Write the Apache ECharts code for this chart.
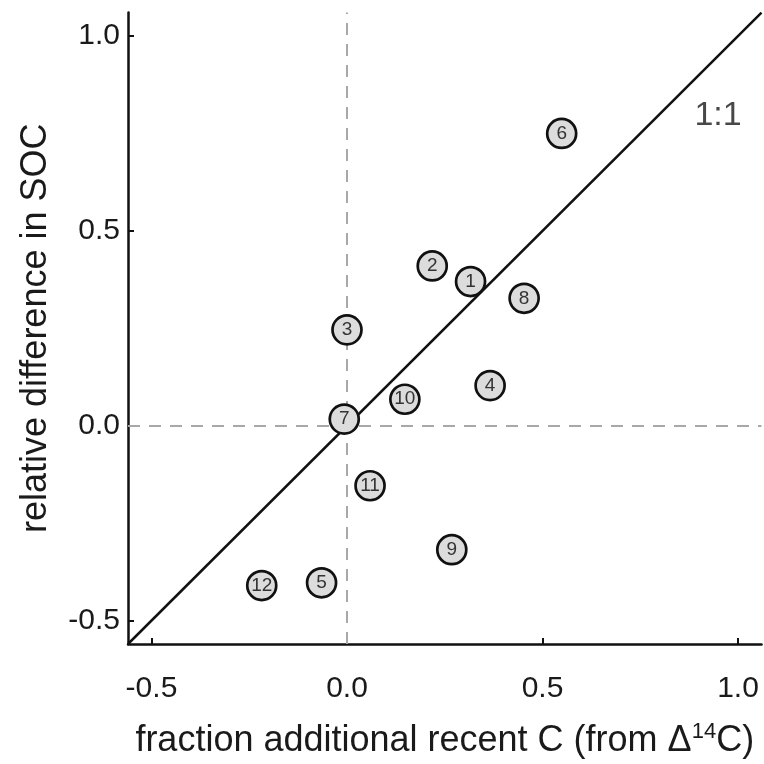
<!DOCTYPE html>
<html>
<head>
<meta charset="utf-8">
<script src="https://cdn.jsdelivr.net/npm/echarts@6/dist/echarts.min.js"></script>
<style>
html,body{margin:0;padding:0;background:#fff;}
#chart{width:764px;height:764px;}
</style>
</head>
<body>
<div id="chart"></div>
<script>
// Data
var siteLabels = ['1','2','3','4','5','6','7','8','9','10','11','12'];
var recentC    = [0.316, 0.218, 0.000, 0.366, -0.065, 0.549, -0.007, 0.453, 0.268, 0.148, 0.059, -0.218];
var socDiff    = [0.370, 0.410, 0.246, 0.103, -0.403, 0.750, 0.017, 0.327, -0.318, 0.068, -0.154, -0.410];
var tickValues = [-0.5, 0.0, 0.5, 1.0];
var axisMin = -0.56, axisMax = 1.06;
var oneToOneLabel = '1:1';
var oneToOneLabelPos = [0.949, 0.795];

var points = siteLabels.map(function (n, i) { return { name: n, value: [recentC[i], socDiff[i]] }; });

var FONT = 'Liberation Sans, Arial, sans-serif';
var chart = echarts.init(document.getElementById('chart'), null, { renderer: 'canvas' });

function axisCommon() {
  return {
    type: 'value', min: axisMin, max: axisMax,
    axisLine: { show: true, onZero: false, lineStyle: { color: '#111', width: 2.5 } },
    axisTick: { show: true, inside: true, length: 6, customValues: tickValues, lineStyle: { color: '#111', width: 2 } },
    axisLabel: { customValues: tickValues, fontFamily: FONT, fontSize: 30, color: '#1a1a1a',
                 formatter: function (v) { return v.toFixed(1); } },
    splitLine: { show: false }
  };
}

var xAxis = axisCommon();
xAxis.axisLabel.margin = 30;
xAxis.name = 'fraction additional recent C (from \u0394{sup|14}C)';
xAxis.nameLocation = 'middle';
xAxis.nameGap = 77;
xAxis.nameTextStyle = { fontFamily: FONT, fontSize: 36, color: '#1a1a1a',
  rich: { sup: { fontFamily: FONT, fontSize: 22, color: '#1a1a1a', verticalAlign: 'top', padding: [0, 0, 18, 0] } } };

var yAxis = axisCommon();
yAxis.axisLabel.margin = 8;
yAxis.name = 'relative difference in SOC';
yAxis.nameLocation = 'middle';
yAxis.nameGap = 74;
yAxis.nameTextStyle = { fontFamily: FONT, fontSize: 36, color: '#1a1a1a' };

chart.setOption({
  animation: false,
  backgroundColor: '#fff',
  grid: { left: 128, right: 2.5, top: 12.6, bottom: 119.6, containLabel: false },
  xAxis: xAxis,
  yAxis: yAxis,
  series: [
    {
      type: 'line', z: 2, silent: true, symbol: 'none',
      data: [[axisMin, axisMin], [axisMax, axisMax]],
      lineStyle: { color: '#111', width: 2.5 },
      markLine: {
        silent: true, symbol: 'none', z: 1,
        label: { show: false },
        lineStyle: { color: '#a8a8a8', width: 2, type: [12, 9] },
        data: [{ xAxis: 0 }, { yAxis: 0 }]
      }
    },
    {
      type: 'scatter', z: 5, symbol: 'circle', symbolSize: 29,
      data: points,
      itemStyle: { color: '#dcdcdc', borderColor: '#111', borderWidth: 2.7, opacity: 1 },
      label: { show: true, position: 'inside', formatter: '{b}', fontFamily: FONT, fontSize: 19, color: '#333' }
    },
    {
      type: 'scatter', z: 6, symbolSize: 0, silent: true,
      data: [{ name: oneToOneLabel, value: oneToOneLabelPos }],
      label: { show: true, position: 'inside', formatter: '{b}', fontFamily: FONT, fontSize: 34, color: '#1a1a1a' }
    }
  ]
});
</script>
</body>
</html>
